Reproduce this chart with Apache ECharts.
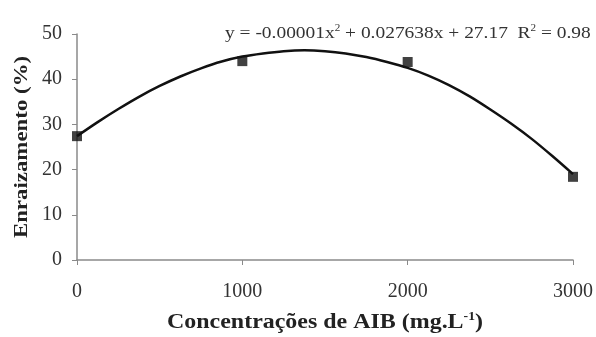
<!DOCTYPE html>
<html>
<head>
<meta charset="utf-8">
<script src="https://cdn.jsdelivr.net/npm/echarts@6/dist/echarts.min.js"></script>
<style>
  html, body { margin: 0; padding: 0; background: #fff; }
  #main { width: 596px; height: 337px; }
</style>
</head>
<body>
<div id="main"></div>
<script>
// observed means (AIB concentration vs rooting %)
var concentracoes = [0, 1000, 2000, 3000];
var enraizamento = [27.4, 44.0, 43.8, 18.4];

// fitted curve, every 125 mg/L
var curvaX = [0, 125, 250, 375, 500, 625, 750, 875, 1000, 1125, 1250, 1375, 1500,
              1625, 1750, 1875, 2000, 2125, 2250, 2375, 2500, 2625, 2750, 2875, 3000];
var curvaY = [27.4, 30.5, 33.4, 36.1, 38.5, 40.6, 42.4, 43.9, 45.0, 45.7, 46.2, 46.4, 46.2,
              45.7, 44.9, 43.8, 42.5, 40.8, 38.7, 36.2, 33.3, 30.2, 26.8, 23.0, 19.0];

var xTicks = [0, 1000, 2000, 3000];
var yTicks = [0, 10, 20, 30, 40, 50];

var serif = '"Liberation Serif", "Times New Roman", serif';

var myChart = echarts.init(document.getElementById('main'));
myChart.setOption({
    backgroundColor: '#ffffff',
    animation: false,
    grid: {
        left: 77,
        right: 23,
        top: 34,
        bottom: 77
    },
    xAxis: {
        type: 'value',
        min: xTicks[0],
        max: xTicks[xTicks.length - 1],
        interval: 1000,
        axisLine: { lineStyle: { color: '#8a8a8a', width: 1.5 } },
        axisTick: { show: true, inside: false, length: 5, lineStyle: { color: '#8a8a8a' } },
        axisLabel: {
            fontFamily: serif, fontSize: 20, color: '#333', margin: 22,
            formatter: function (v) { return String(v); }
        },
        splitLine: { show: false }
    },
    yAxis: {
        type: 'value',
        min: yTicks[0],
        max: yTicks[yTicks.length - 1],
        interval: 10,
        axisLine: { show: true, lineStyle: { color: '#8a8a8a', width: 1.5 } },
        axisTick: { show: true, inside: false, length: 5, lineStyle: { color: '#8a8a8a' } },
        axisLabel: { fontFamily: serif, fontSize: 20, color: '#333', margin: 15 },
        splitLine: { show: false }
    },
    graphic: [{
        // regression equation
        type: 'text',
        x: 225,
        y: 33,
        scaleX: 1.11,
        style: {
            text: 'y = -0.00001x{sup|2} + 0.027638x + 27.17  R{sup|2} = 0.98',
            font: '17.5px ' + serif,
            fill: '#333',
            verticalAlign: 'middle',
            rich: {
                sup: { fontFamily: serif, fontSize: 10, fill: '#333', padding: [0, 0, 10, 0] }
            }
        }
    }, {
        // x axis title
        type: 'text',
        x: 325,
        y: 323,
        scaleX: 1.14,
        style: {
            text: 'Concentrações de AIB (mg.L{sup|-1})',
            font: 'bold 21px ' + serif,
            fill: '#222',
            align: 'center',
            verticalAlign: 'middle',
            rich: {
                sup: { fontFamily: serif, fontSize: 12, fontWeight: 'bold', fill: '#222', padding: [0, 0, 12, 0] }
            }
        }
    }, {
        // y axis title
        type: 'text',
        x: 22,
        y: 147,
        rotation: Math.PI / 2,
        scaleX: 1.27,
        style: {
            text: 'Enraizamento (%)',
            font: 'bold 18px ' + serif,
            fill: '#222',
            align: 'center',
            verticalAlign: 'middle'
        }
    }],
    series: [{
        name: 'ajuste',
        type: 'line',
        smooth: 0.3,
        showSymbol: false,
        lineStyle: { color: '#111', width: 2.5 },
        data: curvaX.map(function (x, i) { return [x, curvaY[i]]; }),
        z: 2
    }, {
        name: 'observado',
        type: 'scatter',
        symbol: 'rect',
        symbolSize: 10,
        itemStyle: { color: '#111' },
        data: concentracoes.map(function (x, i) { return [x, enraizamento[i]]; }),
        z: 3
    }]
});
</script>
</body>
</html>
